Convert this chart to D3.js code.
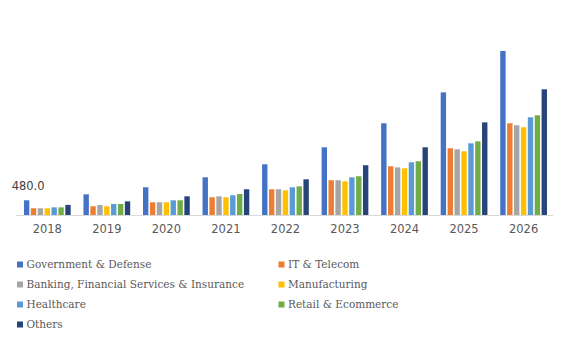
<!DOCTYPE html>
<html><head><meta charset="utf-8">
<script src="https://cdn.jsdelivr.net/npm/d3@7"></script>
<style>body{margin:0;background:#fff}svg{display:block}</style>
</head><body>
<svg id="c" width="571" height="344"></svg>
<script>
const years = ["2018","2019","2020","2021","2022","2023","2024","2025","2026"];
const seriesNames = ["Government & Defense","IT & Telecom","Banking, Financial Services & Insurance","Manufacturing","Healthcare","Retail & Ecommerce","Others"];
const government = [480,675,905,1230,1655,2210,2995,4005,5355];
const itTelecom = [220,285,415,580,840,1135,1590,2180,2995];
const bfsi = [220,325,415,610,840,1135,1555,2145,2930];
const manufacturing = [220,285,415,580,805,1100,1525,2080,2865];
const healthcare = [250,360,480,645,905,1230,1720,2340,3190];
const retail = [250,360,480,685,935,1265,1755,2405,3255];
const others = [330,445,610,840,1165,1625,2210,3025,4105];
const dataLabel = "480.0";
const colors = ["#4472C4","#ED7D31","#A5A5A5","#FFC000","#5B9BD5","#70AD47","#264478"];

const series = [government,itTelecom,bfsi,manufacturing,healthcare,retail,others];
const svg = d3.select("#c");
const baseY = 215;
const x0 = d3.scaleBand().domain(years).range([17.5,553.4]).paddingInner(0.215).paddingOuter(0.108);
const x1 = d3.scaleBand().domain(d3.range(7)).range([0,x0.bandwidth()]).paddingInner(0.22);
const y = d3.scaleLinear().domain([0,5355]).range([baseY,51]);

// axis line
svg.append("line").attr("x1",16).attr("x2",553).attr("y1",baseY+0.5).attr("y2",baseY+0.5)
  .attr("stroke","#d9d9d9").attr("stroke-width",1);

const g = svg.append("g");
years.forEach((yr,i)=>{
  series.forEach((s,k)=>{
    g.append("rect")
      .attr("x",x0(yr)+x1(k))
      .attr("y",y(s[i]))
      .attr("width",x1.bandwidth())
      .attr("height",baseY-y(s[i]))
      .attr("fill",colors[k]);
  });
});

// category labels
const xAxis = svg.append("g").attr("transform",`translate(0,${baseY})`)
  .call(d3.axisBottom(x0).tickSize(0).tickPadding(8));
xAxis.select(".domain").remove();
xAxis.selectAll("text").attr("font-family","DejaVu Sans").attr("font-size","11.5px").attr("fill","#595959").attr("dy","0.9em");

// data label
svg.append("text").attr("x",x0(years[0])+x1(0)+x1.bandwidth()/2+1.5).attr("y",y(government[0])-10)
  .attr("text-anchor","middle").attr("font-family","DejaVu Sans").attr("font-size","11.5px").attr("fill","#404040")
  .text(dataLabel);

// legend
const leg = svg.append("g");
const colX = [17,278.5];
const rowY = [264.5,284.5,304.5,324.5];
seriesNames.forEach((n,k)=>{
  const cx = colX[k%2], cy = rowY[Math.floor(k/2)];
  leg.append("rect").attr("x",cx).attr("y",cy-3).attr("width",6).attr("height",6).attr("fill",colors[k]);
  leg.append("text").attr("x",cx+9.5).attr("y",cy+3.8).attr("font-family","DejaVu Serif").attr("font-size","10.5px")
    .attr("fill","#595959").text(n);
});
</script>
</body></html>
